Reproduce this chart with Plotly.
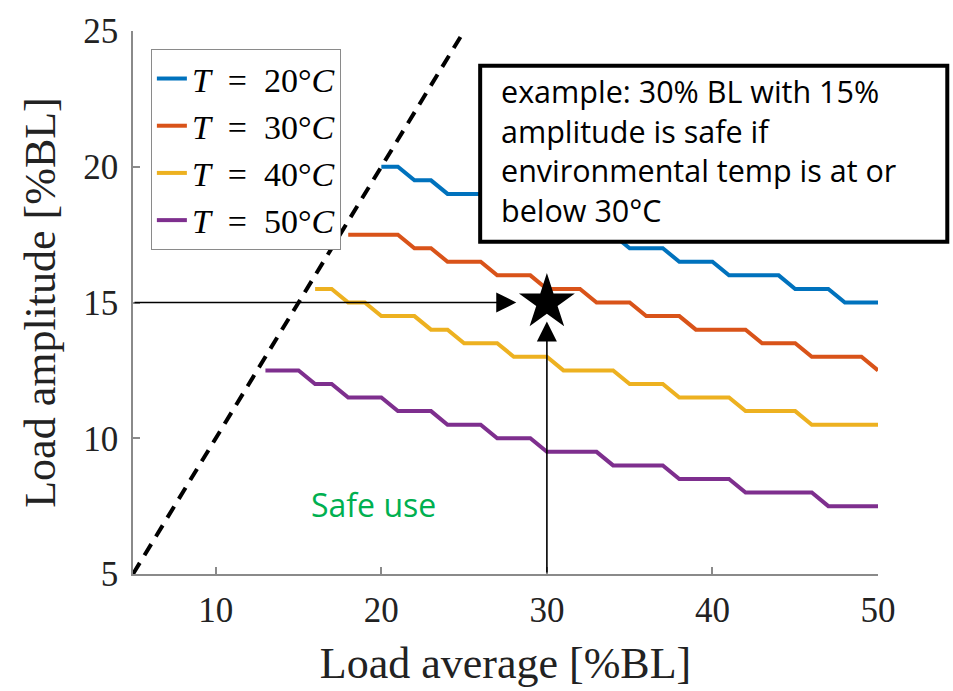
import plotly.graph_objects as go

# ---------------- data ----------------
blue_x = list(range(20, 51))
blue_y = [20, 20, 19.5, 19.5, 19, 19, 19, 18.5, 18.5, 18.5, 18, 18, 18, 17.5, 17.5,
          17, 17, 17, 16.5, 16.5, 16.5, 16, 16, 16, 16, 15.5, 15.5, 15.5, 15, 15, 15]

red_x = list(range(18, 51))
red_y = [17.5, 17.5, 17.5, 17.5, 17, 17, 16.5, 16.5, 16.5, 16, 16, 16, 15.5, 15.5, 15.5,
         15, 15, 15, 14.5, 14.5, 14.5, 14, 14, 14, 14, 13.5, 13.5, 13.5, 13, 13, 13, 13, 12.5]

yellow_x = list(range(16, 51))
yellow_y = [15.5, 15.5, 15, 15, 14.5, 14.5, 14.5, 14, 14, 13.5, 13.5, 13.5, 13, 13, 13,
            12.5, 12.5, 12.5, 12.5, 12, 12, 12, 11.5, 11.5, 11.5, 11.5, 11, 11, 11, 11,
            10.5, 10.5, 10.5, 10.5, 10.5]

purple_x = list(range(13, 51))
purple_y = [12.5, 12.5, 12.5, 12, 12, 11.5, 11.5, 11.5, 11, 11, 11, 10.5, 10.5, 10.5,
            10, 10, 10, 9.5, 9.5, 9.5, 9.5, 9, 9, 9, 9, 8.5, 8.5, 8.5, 8.5,
            8, 8, 8, 8, 8, 7.5, 7.5, 7.5, 7.5]

temperatures = [20, 30, 40, 50]
series_colors = ["#0072BD", "#D95319", "#EDB120", "#7E2F8E"]

limit_x = [5, 25]
limit_y = [5, 25]

example_x = 30
example_y = 15
h_arrow_end_x = 28.15
v_arrow_end_y = 14.3

x_ticks = [10, 20, 30, 40, 50]
y_ticks = [5, 10, 15, 20, 25]

box_text = ("example: 30% BL with 15%<br>amplitude is safe if<br>"
            "environmental temp is at or<br>below 30°C")
safe_text = "Safe use"

# ---------------- figure ----------------
serif = "Liberation Serif"
sans = "Open Sans"
fig = go.Figure()

fig.add_trace(go.Scatter(x=limit_x, y=limit_y, mode="lines",
                         line=dict(color="black", width=4, dash="13px,9px"),
                         showlegend=False, hoverinfo="skip"))

for xs, ys, t, col in zip([blue_x, red_x, yellow_x, purple_x],
                          [blue_y, red_y, yellow_y, purple_y],
                          temperatures, series_colors):
    nm = f"<i>T</i>&#8194;=&#8194;{t}°<i>C</i>"
    fig.add_trace(go.Scatter(x=xs, y=ys, mode="lines", name=nm,
                             line=dict(color=col, width=4)))

fig.add_trace(go.Scatter(x=[example_x], y=[example_y], mode="markers",
                         marker=dict(symbol="star", size=42, color="black"),
                         showlegend=False))

# arrows
fig.add_annotation(x=h_arrow_end_x, y=example_y, ax=5, ay=example_y,
                   xref="x", yref="y", axref="x", ayref="y",
                   showarrow=True, arrowhead=2, arrowsize=2.5, arrowwidth=1.6,
                   arrowcolor="black", text="")
fig.add_annotation(x=example_x, y=v_arrow_end_y, ax=example_x, ay=5,
                   xref="x", yref="y", axref="x", ayref="y",
                   showarrow=True, arrowhead=2, arrowsize=2.5, arrowwidth=1.6,
                   arrowcolor="black", text="")

# text box
fig.add_shape(type="rect", xref="paper", yref="paper",
              x0=0.466, x1=1.093, y0=0.612, y1=0.936,
              line=dict(color="black", width=4), fillcolor="white", layer="above")
fig.add_annotation(xref="paper", yref="paper", x=0.491, y=0.932,
                   xanchor="left", yanchor="top", align="left", showarrow=False,
                   text=box_text, font=dict(family=sans, size=30.5, color="black"))

fig.add_annotation(x=19.5, y=7.55, xref="x", yref="y", showarrow=False,
                   text=safe_text, font=dict(family=sans, size=32, color="#00B050"))

axis_common = dict(showline=True, linecolor="#8a8a8a", linewidth=1.5,
                   ticks="inside", ticklen=7, tickcolor="#8a8a8a", tickwidth=1.5,
                   showgrid=False, zeroline=False, mirror=False,
                   tickfont=dict(family=serif, size=35, color="#222"),
                   title_font=dict(family=serif, size=44, color="#222"))

fig.update_xaxes(range=[5, 50], tickvals=x_ticks, ticktext=[str(v) for v in x_ticks],
                 title_text="Load average [%BL]", title_standoff=18,
                 ticklabelstandoff=4, **axis_common)
fig.update_yaxes(range=[5, 25], tickvals=y_ticks, ticktext=[str(v) for v in y_ticks],
                 title_text="Load amplitude [%BL]", title_standoff=14,
                 ticklabelstandoff=6, **axis_common)

fig.update_layout(
    width=953, height=691,
    margin=dict(l=133, r=75, t=27, b=115),
    plot_bgcolor="white", paper_bgcolor="white",
    legend=dict(x=0.024, y=0.967, xanchor="left", yanchor="top",
                bgcolor="white", bordercolor="#8a8a8a", borderwidth=1,
                font=dict(family=serif, size=34, color="black"),
                tracegroupgap=0),
)

fig.write_html("out.html")
